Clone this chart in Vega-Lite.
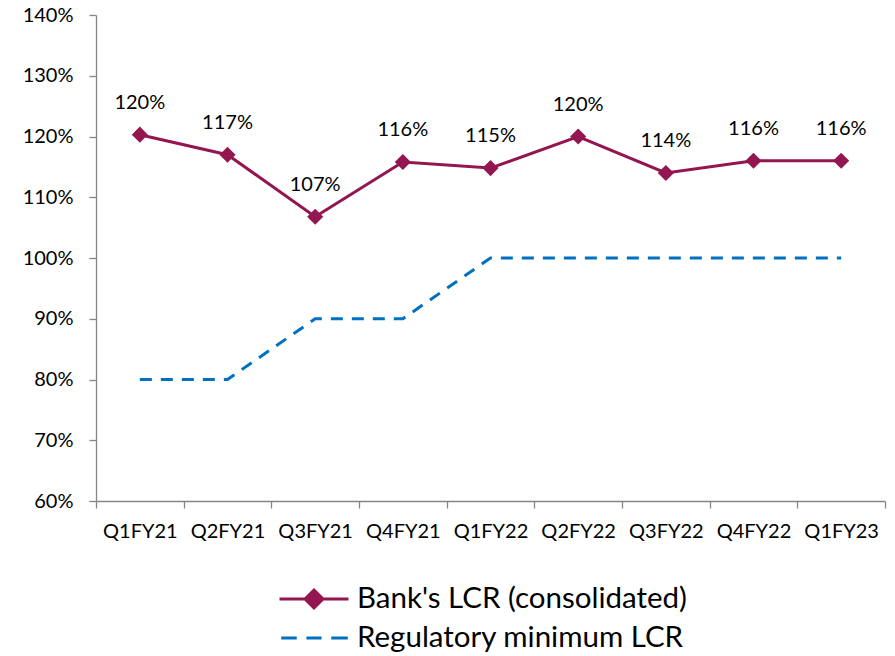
{
  "$schema": "https://vega.github.io/schema/vega-lite/v6.json",
  "width": 789,
  "height": 486,
  "autosize": {"type": "none"},
  "padding": {"left": 96, "top": 15, "right": 10, "bottom": 155},
  "background": "white",
  "config": {
    "font": "Lato",
    "view": {"stroke": null},
    "axis": {"domainColor": "#868686", "tickColor": "#868686", "labelColor": "#000000", "labelFont": "Lato", "labelFontSize": 20, "grid": false, "tickSize": 7, "domainWidth": 1.3, "tickWidth": 1.3}
  },
  "data": {
    "values": [
      {"q": "Q1FY21", "series": "Bank's LCR (consolidated)", "v": 120.3, "lab": "120%"},
      {"q": "Q2FY21", "series": "Bank's LCR (consolidated)", "v": 117.0, "lab": "117%"},
      {"q": "Q3FY21", "series": "Bank's LCR (consolidated)", "v": 106.8, "lab": "107%"},
      {"q": "Q4FY21", "series": "Bank's LCR (consolidated)", "v": 115.8, "lab": "116%"},
      {"q": "Q1FY22", "series": "Bank's LCR (consolidated)", "v": 114.8, "lab": "115%"},
      {"q": "Q2FY22", "series": "Bank's LCR (consolidated)", "v": 120.0, "lab": "120%"},
      {"q": "Q3FY22", "series": "Bank's LCR (consolidated)", "v": 114.0, "lab": "114%"},
      {"q": "Q4FY22", "series": "Bank's LCR (consolidated)", "v": 116.0, "lab": "116%"},
      {"q": "Q1FY23", "series": "Bank's LCR (consolidated)", "v": 116.0, "lab": "116%"},
      {"q": "Q1FY21", "series": "Regulatory minimum LCR", "v": 80},
      {"q": "Q2FY21", "series": "Regulatory minimum LCR", "v": 80},
      {"q": "Q3FY21", "series": "Regulatory minimum LCR", "v": 90},
      {"q": "Q4FY21", "series": "Regulatory minimum LCR", "v": 90},
      {"q": "Q1FY22", "series": "Regulatory minimum LCR", "v": 100},
      {"q": "Q2FY22", "series": "Regulatory minimum LCR", "v": 100},
      {"q": "Q3FY22", "series": "Regulatory minimum LCR", "v": 100},
      {"q": "Q4FY22", "series": "Regulatory minimum LCR", "v": 100},
      {"q": "Q1FY23", "series": "Regulatory minimum LCR", "v": 100}
    ]
  },
  "encoding": {
    "x": {"field": "q", "type": "ordinal", "sort": null, "title": null,
      "scale": {"type": "band", "paddingInner": 0, "paddingOuter": 0},
      "axis": {"labelAngle": 0, "tickBand": "extent", "labelPadding": 13}},
    "y": {"field": "v", "type": "quantitative", "title": null,
      "scale": {"domain": [60, 140], "nice": false, "zero": false},
      "axis": {"values": [60, 70, 80, 90, 100, 110, 120, 130, 140], "labelExpr": "datum.value + '%'", "labelPadding": 16}}
  },
  "layer": [
    {
      "transform": [{"filter": "datum.series == 'Regulatory minimum LCR'"}],
      "mark": {"type": "line", "color": "#0070C0", "strokeWidth": 3, "strokeDash": [12, 9]}
    },
    {
      "transform": [{"filter": "datum.series == \"Bank's LCR (consolidated)\""}],
      "mark": {"type": "line", "color": "#941651", "strokeWidth": 3}
    },
    {
      "transform": [{"filter": "datum.series == \"Bank's LCR (consolidated)\""}],
      "mark": {"type": "point", "shape": "diamond", "filled": true, "color": "#941651", "opacity": 1, "size": 260}
    },
    {
      "transform": [{"filter": "datum.series == \"Bank's LCR (consolidated)\""}],
      "mark": {"type": "text", "fontSize": 20, "font": "Lato", "color": "#000000", "baseline": "middle", "dy": -32},
      "encoding": {"text": {"field": "lab"}}
    },
    {
      "transform": [{"filter": "datum.v < 0"}],
      "mark": {"type": "point", "fill": "#941651", "strokeWidth": 3, "opacity": 1, "fillOpacity": 1, "strokeOpacity": 1},
      "encoding": {
        "stroke": {"field": "series", "type": "nominal",
          "scale": {"domain": ["Bank's LCR (consolidated)", "Regulatory minimum LCR"], "range": ["#941651", "#0070C0"]},
          "legend": {"orient": "none", "legendX": 182, "legendY": 565, "title": null, "direction": "vertical",
            "labelFontSize": 29.5, "labelFont": "Lato", "labelColor": "#000000", "labelLimit": 0, "symbolSize": 1190, "symbolOffset": 17, "rowPadding": 5, "labelOffset": 24, "symbolStrokeWidth": 3, "symbolFillColor": "#941651"}},
        "shape": {"field": "series", "type": "nominal",
          "scale": {"domain": ["Bank's LCR (consolidated)", "Regulatory minimum LCR"], "range": ["M-2,0H2M0,-0.52L0.52,0L0,0.52L-0.52,0Z", "M-1.9,0H-1M-0.44,0H0.44M1,0H1.96"]}}
      }
    }
  ]
}
